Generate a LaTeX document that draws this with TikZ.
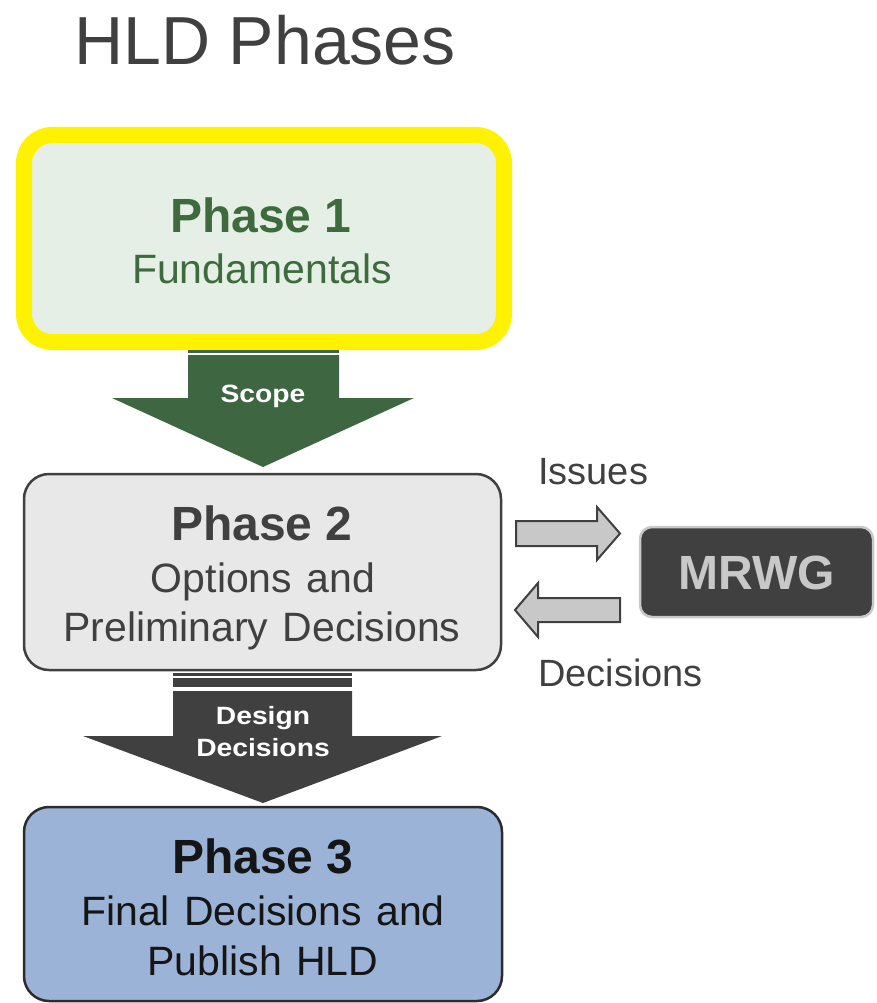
\documentclass[tikz,border=0pt]{standalone}
\usepackage{fontspec}
\setmainfont{Liberation Sans}
\newfontfamily\widefont[FakeStretch=1.13]{Liberation Sans}
\definecolor{titlegray}{HTML}{404040}
\definecolor{darkgray}{HTML}{404040}
\definecolor{pgreen}{HTML}{3D6B3D}
\definecolor{agreen}{HTML}{3D6641}
\definecolor{lgreen}{HTML}{E5EFE5}
\definecolor{lgray}{HTML}{E8E8E8}
\definecolor{mgray}{HTML}{C8C8C8}
\definecolor{pblue}{HTML}{9BB3D6}
\definecolor{nearblack}{HTML}{151515}
\newcommand{\fs}[1]{\fontsize{#1}{#1}\selectfont}
\tikzset{
  phasebox/.style={rounded corners=25pt, minimum width=#1, inner sep=0pt},
  lbl/.style={anchor=base, inner sep=0pt},
  sidearrow/.style={fill=mgray, draw=darkgray, line width=2pt, line join=miter},
}
\begin{document}
\begin{tikzpicture}[x=1pt,y=-1pt]
\useasboundingbox (0,0) rectangle (877,1003);
% title
\node[lbl, text=titlegray] (title) at (265,65) {\fs{68}HLD Phases};
% Phase 1
\node[draw=yellow, fill=lgreen, line width=16pt, rounded corners=28pt, minimum width=480pt, minimum height=207pt, inner sep=0pt] (p1) at (264,238.5) {};
\node[lbl, text=pgreen] (p1a) at (261,232) {\fs{48}\bfseries Phase 1};
\node[lbl, text=pgreen] (p1b) at (262,283) {\fs{41}Fundamentals};
% Scope arrow
\fill[agreen] (188,350) rectangle (339,352.5);
\fill[agreen] (188,355)--(339,355)--(339,398)--(414,398)--(263,467)--(112,398)--(188,398)--cycle;
\node[lbl, text=white] (scope) at (263,402) {\widefont\fs{25}\bfseries Scope};
% Phase 2
\node[draw=darkgray, fill=lgray, line width=2.5pt, phasebox=477pt, minimum height=196pt] (p2) at (262.5,572) {};
\node[lbl, text=darkgray] (p2a) at (262,540) {\fs{48}\bfseries Phase 2};
\node[lbl, text=darkgray] (p2b) at (263,592) {\fs{41}Options\hspace{0.35em}and};
\node[lbl, text=darkgray] (p2c) at (262,641) {\fs{41}Preliminary\hspace{0.35em}Decisions};
% Design Decisions arrow
\fill[darkgray] (173,673) rectangle (352,675.5);
\fill[darkgray] (173,678) rectangle (352,687);
\fill[darkgray] (173,691)--(352,691)--(352,736)--(442,736)--(263,803)--(83,736)--(173,736)--cycle;
\node[lbl, text=white] (dd1) at (263,724) {\widefont\fs{25}\bfseries Design};
\node[lbl, text=white] (dd2) at (263,756) {\widefont\fs{25}\bfseries Decisions};
% Phase 3
\node[draw=nearblack!90, fill=pblue, line width=2.5pt, phasebox=478pt, minimum height=194pt] (p3) at (263,904) {};
\node[lbl, text=nearblack] (p3a) at (263,873) {\fs{48}\bfseries Phase 3};
\node[lbl, text=nearblack] (p3b) at (263,925) {\fs{41}Final\hspace{0.35em}Decisions\hspace{0.35em}and};
\node[lbl, text=nearblack] (p3c) at (263,975) {\fs{41}Publish\hspace{0.35em}HLD};
% MRWG
\node[draw=mgray, fill=darkgray, line width=2.5pt, rounded corners=12pt, minimum width=233pt, minimum height=90pt, inner sep=0pt] (mrwg) at (756.5,572) {};
\node[lbl, text=mgray] (mrwgt) at (757,589) {\fs{48}\bfseries MRWG};
% side arrows
\draw[sidearrow] (516,521)--(597,521)--(597,507)--(620,533.5)--(597,560)--(597,546)--(516,546)--cycle;
\draw[sidearrow] (620,598)--(538,598)--(538,583)--(515,610)--(538,637)--(538,622)--(620,622)--cycle;
\node[lbl, anchor=base west, text=darkgray] (issues) at (538,484) {\fs{38}Issues};
\node[lbl, anchor=base west, text=darkgray] (decs) at (538,686) {\fs{38}Decisions};
\end{tikzpicture}
\end{document}
